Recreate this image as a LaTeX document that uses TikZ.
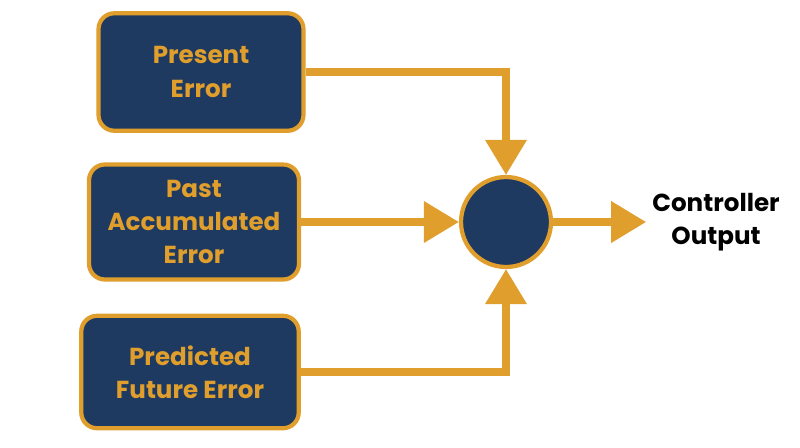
\documentclass[tikz,border=0pt]{standalone}
\usepackage{fontspec}
\setmainfont{Poppins}
\usetikzlibrary{arrows.meta}
\definecolor{navy}{HTML}{1F3A60}
\definecolor{gold}{HTML}{E09E2C}
\tikzset{
  block/.style={draw=gold, fill=navy, line width=2.4pt, rounded corners=9pt, text=gold,
    align=center, font=\fontsize{14}{19}\selectfont\bfseries, inner sep=0pt},
  flow/.style={gold, line width=4pt, -{Triangle[length=0.7cm, width=0.8cm]}}
}
\begin{document}
\begin{tikzpicture}[x=0.02cm, y=-0.02cm]
    \useasboundingbox (0,0) rectangle (800,447);
    \node[block, minimum width=4.1cm, minimum height=2.35cm](present)at(201,72){Present\\Error};
    \node[block, minimum width=4.2cm, minimum height=2.3cm](past)at(194,222){Past\\Accumulated\\Error};
    \node[block, minimum width=4.35cm, minimum height=2.25cm](future)at(190,372){Predicted\\Future Error};
    \node[circle, draw=gold, fill=navy, line width=2.4pt, minimum size=1.8cm](sum)at(506,222){};
    \node[align=center, font=\fontsize{14}{19}\selectfont\bfseries](out)at(716,222){Controller\\Output};
    \draw[flow](present.east)-|(sum.north);
    \draw[flow](past.east)--(sum.west);
    \draw[flow](future.east)-|(sum.south);
    \draw[flow](sum.east)--(out.west);
\end{tikzpicture}
\end{document}
